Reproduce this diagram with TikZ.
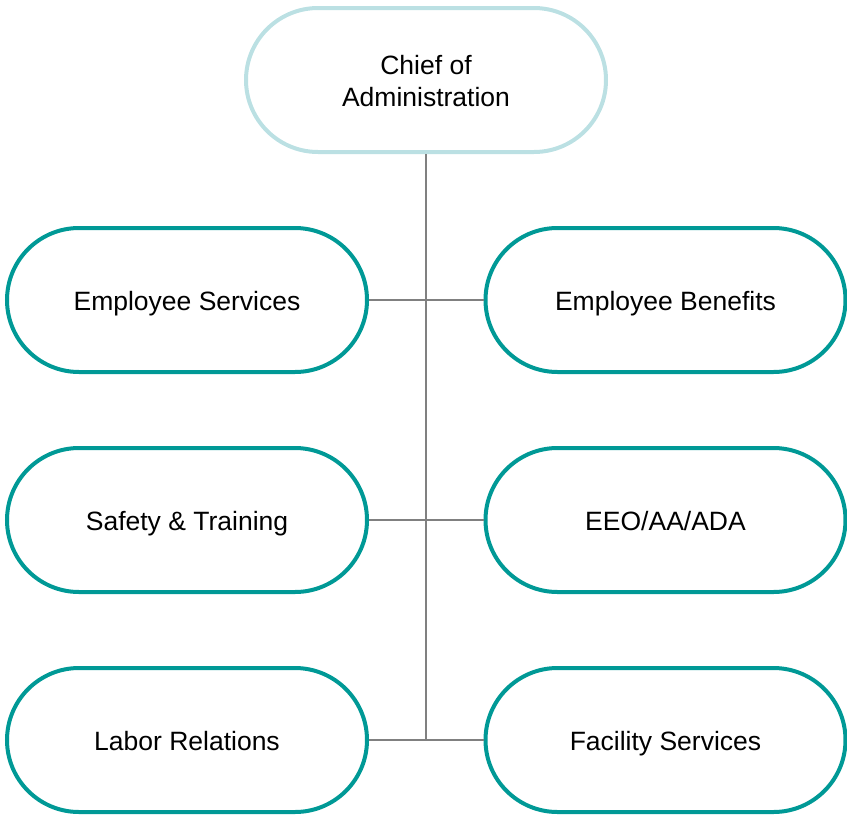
\documentclass[tikz,border=0pt]{standalone}
\usepackage{fontspec}
\setmainfont{Liberation Sans}
\usepackage{tikz}
\definecolor{Teal}{RGB}{0,153,150}
\definecolor{Pale}{RGB}{187,224,227}
\tikzstyle{Unit}=[draw=Teal,line width=4pt,rounded rectangle,minimum width=360pt,minimum height=144pt,inner sep=0pt,text height=20pt,text depth=0pt,align=center,font=\fontsize{26.5}{32}\selectfont]
\tikzstyle{Head}=[draw=Pale,text height=52pt]
\tikzstyle{Line}=[draw=gray,line width=2pt]
\usetikzlibrary{shapes.misc}
\begin{document}
\begin{tikzpicture}[x=1pt,y=-1pt]

    \useasboundingbox (0,0) rectangle (847,817);

    \node[Unit,Head] (chief) at (426, 80) {Chief of\\Administration};

    \node[Unit] (serv) at (187, 300) {Employee Services};
    \node[Unit] (bene) at (665.5, 300) {Employee Benefits};

    \node[Unit] (safe) at (187, 520) {Safety \& Training};
    \node[Unit] (eeo) at (665.5, 520) {EEO/AA/ADA};

    \node[Unit] (labor) at (187, 740) {Labor Relations};
    \node[Unit] (facil) at (665.5, 740) {Facility Services};

    \coordinate (bottom) at (chief.south |- labor.east);

    \draw[Line] (chief.south) to (bottom);

    \draw[Line] (serv.east) to (bene.west);
    \draw[Line] (safe.east) to (eeo.west);
    \draw[Line] (labor.east) to (facil.west);

\end{tikzpicture}
\end{document}
